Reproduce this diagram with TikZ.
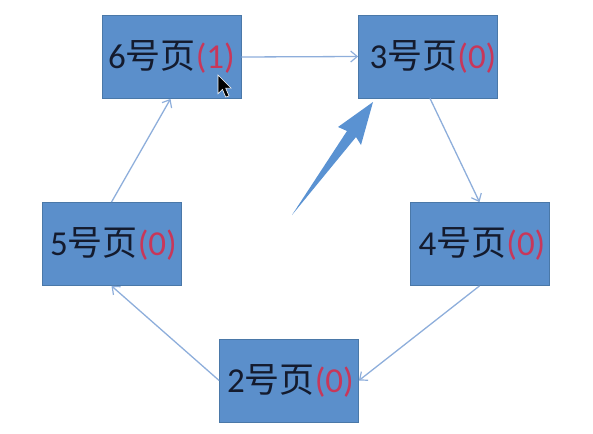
\documentclass[tikz,border=0pt]{standalone}
\usepackage{fontspec}
\setmainfont{Carlito}
\newfontfamily\cjk{Noto Sans CJK SC}
\usetikzlibrary{arrows.meta}
\definecolor{boxfill}{HTML}{5B8FCB}
\definecolor{boxline}{HTML}{4A78A8}
\definecolor{linkc}{HTML}{8EAEDB}
\definecolor{txt}{HTML}{141B2E}
\definecolor{cnt}{HTML}{C8375A}
\definecolor{bigarr}{HTML}{5A92D2}
\tikzset{
  page/.style={draw=boxline, line width=0.8pt, fill=boxfill, minimum width=139pt, minimum height=83pt, inner sep=0pt, text=txt, font=\fontsize{35}{38}\selectfont},
  link/.style={draw=linkc, line width=1.3pt, -{Straight Barb[length=6.5pt,width=11pt,line width=1.2pt]}},
}
\newcommand{\pg}[2]{#1{\cjk 号页}\textcolor{cnt}{(#2)}}
\begin{document}
\begin{tikzpicture}[x=1pt,y=-1pt]
\useasboundingbox (0,0) rectangle (593,433);
\node[page] (n6) at (171.5,57) {\pg{6}{1}};
\node[page] (n3) at (428,56.5) {\hspace{10pt}\pg{3}{0}};
\node[page] (n5) at (111.5,244) {\hspace{4pt}\pg{5}{0}};
\node[page] (n4) at (479.5,244) {\hspace{5pt}\pg{4}{0}};
\node[page] (n2) at (289,380.5) {\hspace{3pt}\pg{2}{0}};
\draw[link] (n6.east) -- (n3.west);
\draw[link] ([xshift=2pt]n3.south) -- (n4.north);
\draw[link] (n4.south) -- (n2.east);
\draw[link] (n2.west) -- (n5.south);
\draw[link] (n5.north) -- ([xshift=-1pt]n6.south);
% big tapered arrow
\fill[bigarr] (292,215) -- (347,131) -- (338,127) -- (373,102) -- (361,145) -- (356,137) -- cycle;
% mouse cursor
\fill[black, draw=white, line width=0.6pt, shift={(218,75)}, scale=1.1]
  (0,0) -- (0,17) -- (4,13) -- (7,20) -- (10,19) -- (7,12) -- (12,12) -- cycle;
\end{tikzpicture}
\end{document}
